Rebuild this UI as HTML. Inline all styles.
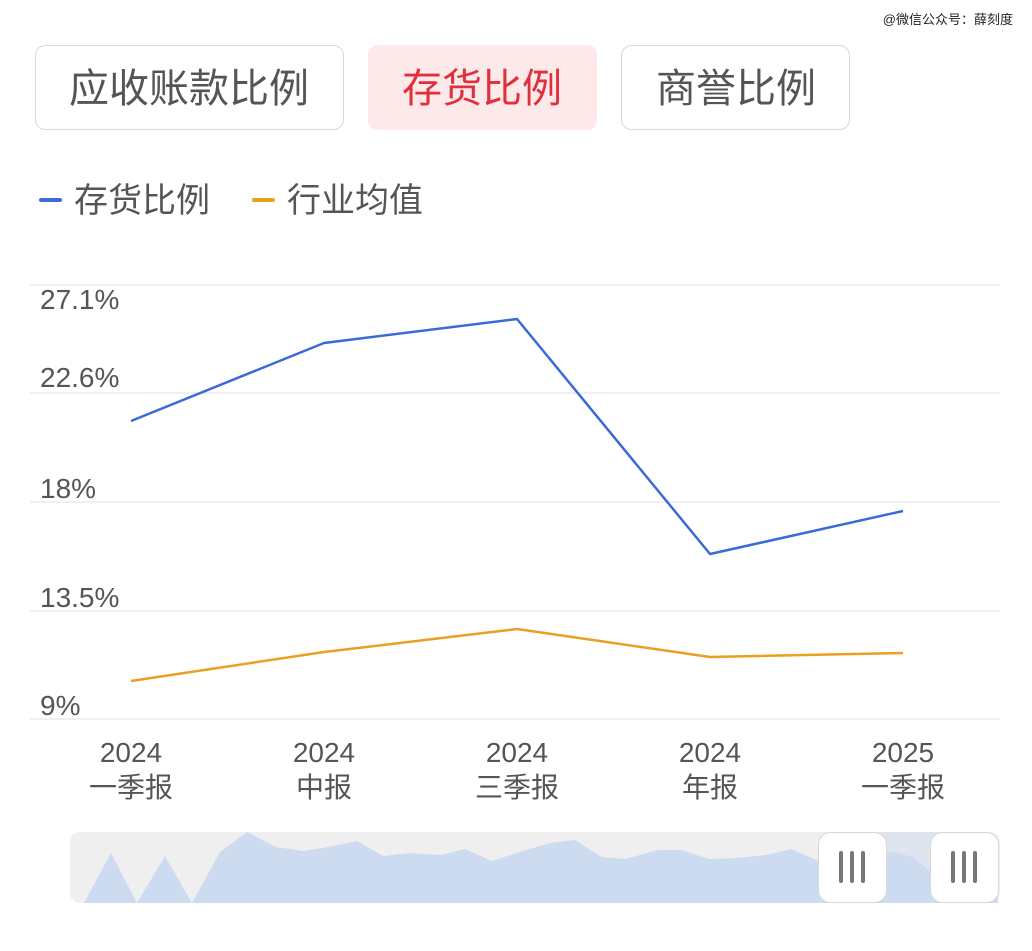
<!DOCTYPE html>
<html><head><meta charset="utf-8"><style>
html,body{margin:0;padding:0;background:#fff;}
body{width:1032px;height:951px;overflow:hidden;}
</style></head><body>
<svg width="1032" height="951" viewBox="0 0 1032 951" xmlns="http://www.w3.org/2000/svg" style="display:block">
<rect width="1032" height="951" fill="#fff"/>
<text x="1013" y="24" text-anchor="end" font-family="Liberation Sans, Noto Sans CJK SC, sans-serif" font-size="13" fill="#222">@微信公众号：薛刻度</text>
<g font-family="Liberation Sans, Noto Sans CJK SC, sans-serif">
<rect x="35.5" y="45.5" width="308" height="84" rx="10" fill="#fff" stroke="#d6d6d6"/>
<text x="189" y="102" text-anchor="middle" font-size="40" fill="#555">应收账款比例</text>
<rect x="368" y="45" width="229" height="85" rx="10" fill="#fde8ea"/>
<text x="482" y="102" text-anchor="middle" font-size="40" fill="#e0303c">存货比例</text>
<rect x="621.5" y="45.5" width="228" height="84" rx="10" fill="#fff" stroke="#d6d6d6"/>
<text x="736" y="102" text-anchor="middle" font-size="40" fill="#555">商誉比例</text>
<rect x="39" y="198" width="23" height="4" rx="2" fill="#3b69d8"/>
<text x="74" y="212" font-size="34" fill="#555">存货比例</text>
<rect x="252" y="198" width="23" height="4" rx="2" fill="#e9a020"/>
<text x="287" y="212" font-size="34" fill="#555">行业均值</text>
<g stroke="#ececec" stroke-width="1.5">
<line x1="30" y1="285" x2="1000" y2="285"/>
<line x1="30" y1="393" x2="1000" y2="393"/>
<line x1="30" y1="502" x2="1000" y2="502"/>
<line x1="30" y1="611" x2="1000" y2="611"/>
<line x1="30" y1="719" x2="1000" y2="719"/>
</g>
<g font-size="28" fill="#555">
<text x="40" y="309">27.1%</text>
<text x="40" y="387">22.6%</text>
<text x="40" y="498">18%</text>
<text x="40" y="607">13.5%</text>
<text x="40" y="715">9%</text>
</g>
<g font-size="28" fill="#555" text-anchor="middle">
<text x="131" y="762">2024</text><text x="131" y="797">一季报</text>
<text x="324" y="762">2024</text><text x="324" y="797">中报</text>
<text x="517" y="762">2024</text><text x="517" y="797">三季报</text>
<text x="710" y="762">2024</text><text x="710" y="797">年报</text>
<text x="903" y="762">2025</text><text x="903" y="797">一季报</text>
</g>
<polyline points="131,421 324,343 517,319 710,554 903,511" fill="none" stroke="#3b69d8" stroke-width="2.5" stroke-linejoin="round"/>
<polyline points="131,681 324,652 517,629 710,657 903,653" fill="none" stroke="#e9a020" stroke-width="2.5" stroke-linejoin="round"/>
<rect x="70" y="832" width="930" height="71" rx="10" fill="#efefef"/>
<rect x="855" y="832" width="113" height="71" fill="#dfe5ee"/>
<polygon points="84,903 111,853 137,903 165,856 192,903 220,852 247,832 276,847 304,851 328,847 357,841 383,856 410,853 441,855 465,849 492,861 523,851 550,843 575,840 602,857 626,859 657,850 681,850 709,859 736,858 766,855 791,849 821,862 894,852 913,857 931,872 955,863 998,880 998,903" fill="#cddbf1"/>
<rect x="818.5" y="832.5" width="68" height="70" rx="12" fill="#fff" stroke="#d8d8d8"/>
<rect x="930.5" y="832.5" width="68" height="70" rx="12" fill="#fff" stroke="#d8d8d8"/>
<g stroke="#777" stroke-width="4" stroke-linecap="round">
<line x1="841" y1="853" x2="841" y2="881"/><line x1="852" y1="853" x2="852" y2="881"/><line x1="863" y1="853" x2="863" y2="881"/>
<line x1="953" y1="853" x2="953" y2="881"/><line x1="964" y1="853" x2="964" y2="881"/><line x1="975" y1="853" x2="975" y2="881"/>
</g>
</g>
</svg>
</body></html>
